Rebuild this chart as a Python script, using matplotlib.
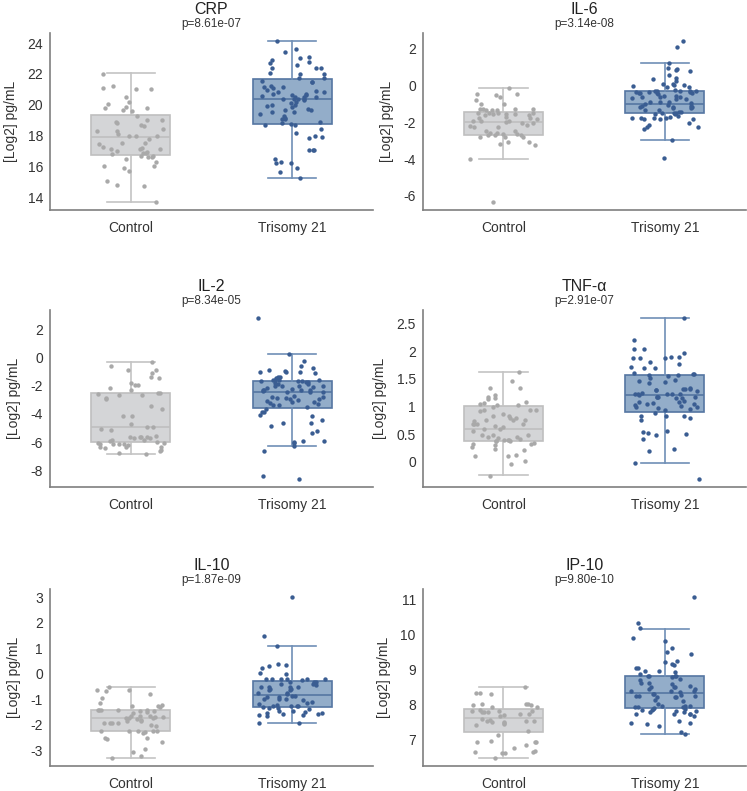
import numpy as np
import matplotlib
matplotlib.use("Agg")
import matplotlib.pyplot as plt
from matplotlib.ticker import FuncFormatter, MultipleLocator

# ---- data ----
groups = ["Control", "Trisomy 21"]
titles = ["CRP", "IL-6", "IL-2", "TNF-\u03b1", "IL-10", "IP-10"]
pvals = ["p=8.61e-07", "p=3.14e-08", "p=8.34e-05", "p=2.91e-07", "p=1.87e-09", "p=9.80e-10"]
tick_steps = [2, 2, 2, 0.5, 1, 1]

crp_ctrl = [22.0, 21.2, 21.0, 21.05, 21.1, 20.5, 20.15, 20.05, 19.8, 19.8, 19.65, 19.6, 19.85, 19.3,
            19.0, 19.0, 18.9, 18.7, 18.65, 18.8, 18.3, 18.4, 18.3, 18.1, 17.95, 17.95, 17.95, 17.8,
            17.45, 17.55, 17.55, 17.25, 17.2, 17.15, 17.15, 17.15, 17.0, 16.95, 16.9, 16.8, 16.7,
            16.7, 16.85, 16.6, 16.5, 16.6, 16.3, 16.0, 16.05, 15.9, 15.7, 15.05, 14.75, 14.8, 13.7]
crp_t21 = [24.1, 23.6, 23.45, 23.05, 22.9, 22.7, 22.8, 23.1, 22.6, 22.4, 22.4, 22.4, 22.05, 22.0,
           22.0, 21.75, 21.75, 21.45, 21.45, 21.55, 21.15, 21.15, 21.2, 21.1, 20.9, 20.95, 20.85,
           20.65, 20.5, 20.8, 20.65, 20.7, 20.5, 20.7, 20.55, 20.5, 20.35, 20.35, 20.35, 20.3, 20.4,
           20.15, 20.0, 19.85, 19.9, 20.1, 20.0, 19.65, 19.65, 19.4, 19.5, 19.5, 19.7, 19.15, 19.3,
           18.9, 19.05, 19.05, 18.8, 18.75, 18.7, 18.7, 18.45, 18.15, 17.85, 17.9, 17.95, 17.1, 17.1,
           17.1, 16.5, 16.2, 16.3, 16.25, 15.9, 15.65, 15.25]

il6_ctrl = [-0.11, -0.44, -0.61, -0.54, -0.48, -0.79, -1.01, -1.01, -1.31, -1.29, -1.35, -1.29, -1.27,
            -1.35, -1.27, -1.49, -1.53, -1.6, -1.57, -1.47, -1.49, -1.47, -1.55, -1.77, -1.82, -1.77,
            -1.7, -1.6, -1.94, -1.94, -1.94, -2.06, -2.04, -1.97, -2.21, -2.23, -2.23, -2.14, -2.45,
            -2.49, -2.58, -2.67, -2.63, -2.6, -2.71, -2.67, -2.63, -2.82, -2.78, -2.78, -3.18, -3.07,
            -3.07, -3.24, -3.99, -6.33]
il6_t21 = [2.42, 2.09, 1.25, 0.86, 0.81, 0.88, 0.93, 0.6, 0.4, 0.36, 0.24, 0.09, 0.05, 0.09, -0.02,
           -0.06, -0.06, 0.01, -0.24, -0.28, -0.28, -0.28, -0.35, -0.35, -0.3, -0.28, -0.39, -0.39,
           -0.39, -0.46, -0.35, -0.41, -0.57, -0.61, -0.57, -0.72, -0.65, -0.68, -0.72, -0.61, -0.87,
           -0.89, -0.92, -0.94, -1.01, -1.05, -1.13, -1.16, -1.16, -1.09, -1.16, -1.2, -1.2, -1.35,
           -1.35, -1.42, -1.42, -1.49, -1.49, -1.49, -1.53, -1.53, -1.71, -1.68, -1.79, -1.75, -1.82,
           -1.82, -1.82, -1.79, -1.75, -2.01, -2.26, -2.23, -2.12, -2.38, -2.96, -3.96]

il2_ctrl = [-0.36, -0.62, -0.9, -0.9, -1.14, -1.38, -1.48, -1.83, -1.98, -1.98, -2.19, -2.33, -2.52,
            -2.52, -2.62, -2.67, -2.67, -2.86, -2.95, -3.48, -3.69, -4.19, -4.12, -4.71, -4.9, -4.9,
            -5.05, -5.14, -5.55, -5.64, -5.62, -5.71, -5.67, -5.64, -5.71, -5.83, -5.9, -6.05, -6.1,
            -5.88, -6.0, -6.12, -6.12, -6.12, -6.17, -6.19, -6.38, -6.57, -6.45, -6.36, -6.38, -6.62,
            -6.79, -6.86]
il2_t21 = [2.79, 0.24, -0.26, -0.62, -0.74, -0.9, -1.0, -1.07, -1.07, -1.12, -1.05, -1.79, -1.62,
           -1.67, -1.67, -1.57, -1.57, -1.43, -1.71, -1.67, -1.62, -1.74, -1.38, -1.38, -2.14, -2.0,
           -2.02, -1.9, -1.9, -2.05, -2.1, -2.05, -2.29, -2.33, -2.29, -2.24, -2.48, -2.33, -2.48,
           -2.38, -2.45, -2.81, -2.9, -2.93, -2.86, -3.0, -2.81, -2.76, -2.93, -3.17, -3.19, -3.24,
           -3.33, -3.1, -3.4, -3.52, -3.36, -3.69, -3.86, -4.17, -4.1, -3.9, -4.43, -4.62, -4.67,
           -4.86, -5.19, -5.36, -5.9, -6.05, -6.0, -5.95, -6.29, -6.64, -8.38, -8.62]

tnf_ctrl = [1.62, 1.46, 1.34, 1.34, 1.2, 1.14, 1.16, 1.17, 1.09, 1.05, 1.06, 1.02, 1.02, 1.0, 0.93,
            0.94, 0.93, 0.92, 0.87, 0.83, 0.82, 0.8, 0.79, 0.76, 0.76, 0.75, 0.73, 0.68, 0.68, 0.69,
            0.68, 0.65, 0.63, 0.6, 0.59, 0.55, 0.49, 0.48, 0.49, 0.43, 0.44, 0.41, 0.44, 0.38, 0.39,
            0.38, 0.39, 0.37, 0.39, 0.32, 0.34, 0.32, 0.3, 0.26, 0.24, 0.21, 0.13, 0.1, 0.1, 0.02,
            -0.04, -0.25]
tnf_t21 = [2.6, 2.2, 2.04, 1.97, 2.04, 1.87, 1.87, 1.89, 1.89, 1.87, 1.8, 1.76, 1.7, 1.7, 1.71, 1.57,
           1.58, 1.61, 1.56, 1.59, 1.57, 1.52, 1.48, 1.47, 1.44, 1.43, 1.34, 1.31, 1.31, 1.3, 1.32,
           1.28, 1.29, 1.23, 1.25, 1.23, 1.22, 1.23, 1.23, 1.2, 1.15, 1.15, 1.17, 1.17, 1.17, 1.17,
           1.09, 1.1, 1.09, 1.07, 1.02, 1.05, 1.01, 1.04, 0.99, 0.99, 0.98, 0.95, 0.93, 0.88, 0.82,
           0.8, 0.82, 0.82, 0.76, 0.54, 0.55, 0.52, 0.5, 0.49, 0.41, 0.24, 0.2, -0.03, -0.31]

il10_ctrl = [-0.53, -0.66, -0.65, -0.62, -0.81, -0.94, -1.15, -1.23, -1.25, -1.3, -1.27, -1.43,
             -1.44, -1.46, -1.44, -1.44, -1.46, -1.42, -1.52, -1.56, -1.64, -1.64, -1.7, -1.72,
             -1.68, -1.75, -1.76, -1.64, -1.72, -1.83, -1.92, -1.85, -1.85, -1.95, -1.93, -1.93,
             -2.01, -2.07, -2.23, -2.28, -2.25, -2.23, -2.23, -2.23, -2.34, -2.52, -2.54, -2.57,
             -2.7, -2.97, -3.07, -3.25, -3.31]
il10_t21 = [3.02, 1.5, 1.09, 0.4, 0.3, 0.33, 0.24, 0.03, -0.21, -0.19, -0.19, -0.19, -0.19, -0.19,
            0.0, -0.26, -0.33, -0.33, -0.33, -0.4, -0.45, -0.42, -0.53, -0.53, -0.53, -0.53, -0.64,
            -0.64, -0.61, -0.61, -0.74, -0.77, -0.78, -0.87, -0.9, -0.87, -0.93, -1.01, -1.01,
            -1.03, -1.01, -1.14, -1.11, -1.19, -1.26, -1.22, -1.27, -1.27, -1.25, -1.3, -1.35,
            -1.36, -1.38, -1.51, -1.48, -1.59, -1.55, -1.62, -1.6, -1.62, -1.56, -1.46, -1.66,
            -1.93, -1.93]

ip10_ctrl = [8.52, 8.31, 8.33, 8.35, 8.02, 7.98, 8.02, 7.95, 8.02, 7.94, 7.99, 7.86, 7.83, 7.78,
             7.78, 7.8, 7.74, 7.81, 7.82, 7.68, 7.73, 7.7, 7.54, 7.59, 7.54, 7.51, 7.46, 7.51, 7.56,
             7.41, 7.49, 7.54, 7.24, 7.15, 6.95, 6.95, 6.96, 6.94, 6.84, 6.66, 6.77, 6.68, 6.63,
             6.62, 6.66, 6.48]
ip10_t21 = [11.08, 10.33, 10.19, 9.9, 9.83, 9.61, 9.52, 9.46, 9.25, 9.13, 9.17, 9.21, 9.04, 9.04,
            8.93, 8.96, 8.96, 8.83, 8.79, 8.83, 8.81, 8.88, 8.83, 8.75, 8.71, 8.62, 8.62, 8.6, 8.52,
            8.54, 8.46, 8.5, 8.5, 8.44, 8.37, 8.38, 8.38, 8.4, 8.31, 8.29, 8.31, 8.23, 8.26, 8.23,
            8.21, 8.25, 8.26, 8.15, 8.1, 8.02, 7.97, 7.92, 7.95, 7.88, 7.97, 7.95, 7.86, 7.82, 7.89,
            7.96, 7.94, 7.86, 7.83, 7.78, 7.78, 7.75, 7.73, 7.75, 7.67, 7.73, 7.44, 7.53, 7.48, 7.49,
            7.39, 7.23, 7.16]

# box stats: [whisker low, q1, median, q3, whisker high]
crp_box = [[13.7, 16.74, 17.92, 19.34, 22.03], [15.23, 18.75, 20.39, 21.64, 24.13]]
il6_box = [[-4.01, -2.69, -1.97, -1.44, -0.11], [-2.96, -1.49, -0.98, -0.32, 1.25]]
il2_box = [[-6.86, -6.0, -4.9, -2.55, -0.33], [-6.31, -3.62, -2.48, -1.69, 0.21]]
tnf_box = [[-0.24, 0.38, 0.59, 1.01, 1.62], [-0.03, 0.9, 1.21, 1.57, 2.6]]
il10_box = [[-3.3, -2.23, -1.72, -1.42, -0.53], [-1.95, -1.32, -0.85, -0.28, 1.09]]
ip10_box = [[6.49, 7.23, 7.61, 7.88, 8.52], [7.16, 7.9, 8.33, 8.83, 10.18]]

points = [(crp_ctrl, crp_t21), (il6_ctrl, il6_t21), (il2_ctrl, il2_t21),
          (tnf_ctrl, tnf_t21), (il10_ctrl, il10_t21), (ip10_ctrl, ip10_t21)]
boxes = [crp_box, il6_box, il2_box, tnf_box, il10_box, ip10_box]

# ---- style ----
plt.rcParams['font.family'] = ['Liberation Sans', 'DejaVu Sans']
plt.rcParams['axes.unicode_minus'] = False

face_cols = ['#d4d5d7', '#93adc9']
edge_cols = ['#bfbfbf', '#5576a2']
whisk_cols = ['#c4c4c4', '#6f8fb6']
dot_cols = ['#a9a9a9', '#3a5d92']

fig = plt.figure(figsize=(7.47, 7.91), dpi=100)
lefts = [0.067, 0.566]
bottoms = [0.7345, 0.3843, 0.0316]
w, h = 0.432, 0.2238

rng = np.random.default_rng(3)

for k in range(6):
    r, c = divmod(k, 2)
    ax = fig.add_axes([lefts[c], bottoms[r], w, h])

    for g in range(2):
        lo, q1, med, q3, hi = boxes[k][g]
        st = dict(whislo=lo, q1=q1, med=med, q3=q3, whishi=hi, fliers=[])
        ax.bxp([st], positions=[g], widths=0.49, patch_artist=True, showfliers=False,
               boxprops=dict(facecolor=face_cols[g], edgecolor=edge_cols[g], linewidth=1.2),
               medianprops=dict(color=edge_cols[g], linewidth=1.2),
               whiskerprops=dict(color=whisk_cols[g], linewidth=1.2),
               capprops=dict(color=whisk_cols[g], linewidth=1.2),
               capwidths=0.3, manage_ticks=False)
        vals = np.array(points[k][g])
        xj = g + rng.uniform(-0.21, 0.21, len(vals))
        ax.scatter(xj, vals, s=10, color=dot_cols[g], linewidths=0, zorder=3)

    ax.set_xlim(-0.5, 1.5)
    ax.set_xticks([0, 1])
    ax.set_xticklabels(groups)
    ax.yaxis.set_major_locator(MultipleLocator(tick_steps[k]))
    ax.yaxis.set_major_formatter(FuncFormatter(lambda v, p: '{:g}'.format(round(v, 6))))
    ax.tick_params(axis='both', length=0, labelsize=10, colors='#333333')
    ax.tick_params(axis='x', pad=8)
    ax.tick_params(axis='y', pad=5)
    ax.set_ylabel('[Log2] pg/mL', fontsize=10, color='#333333', labelpad=7)
    for s in ['top', 'right']:
        ax.spines[s].set_visible(False)
    for s in ['left', 'bottom']:
        ax.spines[s].set_color('#7f7f7f')
        ax.spines[s].set_linewidth(1.2)

    ax.annotate(titles[k], xy=(0.5, 1), xycoords='axes fraction', xytext=(0, 14),
                textcoords='offset points', ha='center', va='baseline', fontsize=11.5,
                color='#222222')
    ax.annotate(pvals[k], xy=(0.5, 1), xycoords='axes fraction', xytext=(0, 4),
                textcoords='offset points', ha='center', va='baseline', fontsize=8.5,
                color='#333333')

fig.savefig('out.png', dpi=100)
